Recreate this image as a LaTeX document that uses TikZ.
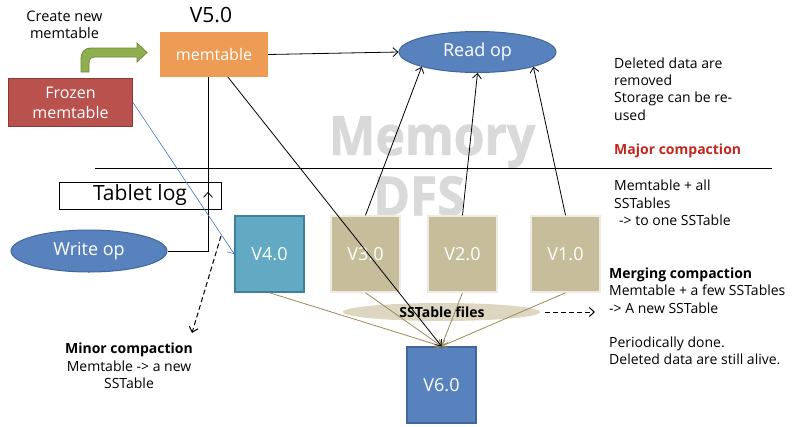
\documentclass[tikz,border=0pt]{standalone}
\usepackage{fontspec}
\setmainfont{Open Sans}
\newfontfamily\wmfont{Open Sans}[FakeBold=1.5]
\usetikzlibrary{arrows.meta,shapes.geometric,decorations.markings,calc}
\definecolor{memorange}{HTML}{EE9C55}
\definecolor{frozred}{HTML}{B9514D}
\definecolor{frozborder}{HTML}{8C3836}
\definecolor{opblue}{HTML}{5882BE}
\definecolor{opborder}{HTML}{41679A}
\definecolor{vteal}{HTML}{62AAC4}
\definecolor{vtealborder}{HTML}{3F7F99}
\definecolor{vtan}{HTML}{C6BD9A}
\definecolor{vtanborder}{HTML}{EEECE1}
\definecolor{sstfill}{HTML}{DDD7C2}
\definecolor{olive}{HTML}{9A8A5A}
\definecolor{majred}{HTML}{C0281E}
\definecolor{wm}{HTML}{D9D9D9}
\definecolor{arrgreen}{HTML}{8FAE4E}
\definecolor{arrgreenborder}{HTML}{6E8A3A}
\definecolor{linkblue}{HTML}{4472C4}
\begin{document}
\begin{tikzpicture}[x=1pt,y=-1pt,
  every node/.style={inner sep=0pt},
  txt/.style={font=\fontsize{14}{17.3}\selectfont, align=left},
  vbox/.style={draw, line width=1.5pt, minimum width=69pt, minimum height=76pt, text=white, font=\fontsize{18}{20}\selectfont},
  tanbox/.style={vbox, fill=vtan, draw=vtanborder},
  opell/.style={ellipse, fill=opblue, draw=opborder, line width=1pt, text=white, font=\fontsize{18}{20}\selectfont},
  arr/.style={-{Straight Barb[length=5pt,width=9pt]}, line width=0.8pt},
  tanarr/.style={arr, draw=olive},
  dasharr/.style={arr, line width=1pt, dash pattern=on 5pt off 3pt},
  wmtext/.style={font=\fontsize{54}{54}\wmfont\bfseries, text=wm}
]
\useasboundingbox (0,0) rectangle (800,426);

% watermark
\node[wmtext] (wmem) at (432,142) {\scalebox{0.92}[1]{Memory}};
\node[wmtext] (wdfs) at (419,196) {\scalebox{0.92}[1]{DFS}};

% separator line
\coordinate (sepL) at (95,168);
\coordinate (sepR) at (772,168);
\draw[line width=0.8pt] (sepL) -- (sepR);

% top texts
\node[font=\fontsize{14.5}{16.5}\selectfont, align=center] (create) at (64.5,25) {Create new\\memtable};
\node[font=\fontsize{21}{22}\selectfont] (v5) at (211,15) {V5.0};

% green bent arrow
\path[fill=arrgreen, draw=arrgreenborder, line width=0.8pt]
  (81,72) -- (81,60) .. controls (81,52) and (84,48) .. (92,48) -- (137,48) -- (137,43) -- (147,52.5)
  -- (137,62) -- (137,57) -- (95,57) .. controls (91,57) and (89,59) .. (89,63) -- (89,72) -- cycle;

% boxes
\node[fill=memorange, minimum width=108pt, minimum height=45pt, text=white, font=\fontsize{16}{18}\selectfont] (mem) at (214,54.5) {memtable};
\node[fill=frozred, draw=frozborder, line width=1pt, minimum width=124pt, minimum height=48pt, text=white, align=center, font=\fontsize{16}{20}\selectfont] (frozen) at (70.5,102.5) {Frozen\\memtable};
\node[opell, minimum width=157pt, minimum height=41pt] (read) at (477.5,52) {Read op};
\node[opell, minimum width=156pt, minimum height=42pt] (write) at (89,251) {Write op};
\node[draw, line width=1pt, minimum width=162pt, minimum height=27pt, font=\fontsize{21}{22}\selectfont] (tablog) at (140,195.5) {Tablet log};

\node[vbox, fill=vteal, draw=vtealborder] (v4) at (269.5,254) {V4.0};
\node[tanbox] (v3) at (365.5,254) {V3.0};
\node[tanbox] (v2) at (462.5,254) {V2.0};
\node[tanbox] (v1) at (565.5,254) {V1.0};
\node[vbox, fill=opblue, draw=opborder] (v6) at (441.5,385) {V6.0};

\node[ellipse, fill=sstfill, minimum width=197pt, minimum height=18pt] (sst) at (441.5,312) {};
\node[font=\fontsize{14}{15}\selectfont\bfseries] (ssttxt) at (442,312) {SSTable files};

% right texts
\node[txt, anchor=west] (deltxt) at (614,89) {Deleted data are\\removed\\Storage can be re-\\used};
\node[font=\fontsize{14}{15}\selectfont\bfseries, text=majred, anchor=west] (major) at (614,151) {Major compaction};
\node[txt, anchor=west] (alltxt) at (614,203) {Memtable + all\\SSTables\\\hspace*{5pt}-> to one SSTable};
\node[txt, anchor=west] (merge) at (609,316.5) {\textbf{Merging compaction}\\Memtable + a few SSTables\\-> A new SSTable\\[17.3pt]Periodically done.\\Deleted data are still alive.};
\node[font=\fontsize{14}{17.3}\selectfont, align=center] (minor) at (129,366) {\textbf{Minor compaction}\\Memtable -> a new\\SSTable};

% connectors
\draw[arr] (mem.east) -- (read.west);
\draw[arr] (v3.north) -- (read.south west);
\draw[arr] (v2.north) -- (read.south);
\draw[arr] (v1.north) -- (read.south east);
\draw[line width=0.8pt, postaction={decorate},
  decoration={markings, mark=at position 0.465 with {\arrow{Straight Barb[length=5pt,width=9pt]}}}]
  (write.east) -| ([xshift=-6pt]mem.south);
\draw[arr, draw=linkblue, line width=0.6pt] (frozen.east) -- (v4.west);
\draw[tanarr] (v4.south) -- (v6.north);
\draw[tanarr] (v3.south) -- (v6.north);
\draw[tanarr] (v2.south) -- (v6.north);
\draw[tanarr] (v1.south) -- (v6.north);
\draw[arr] ([xshift=14pt]mem.south) -- (v6.north);

\coordinate (minA) at (221,236);
\coordinate (minB) at (192,333);
\draw[dasharr] (minA) -- (minB);
\coordinate (mrgA) at (545,312);
\coordinate (mrgB) at (595,312);
\draw[dasharr] (mrgA) -- (mrgB);
\end{tikzpicture}
\end{document}
